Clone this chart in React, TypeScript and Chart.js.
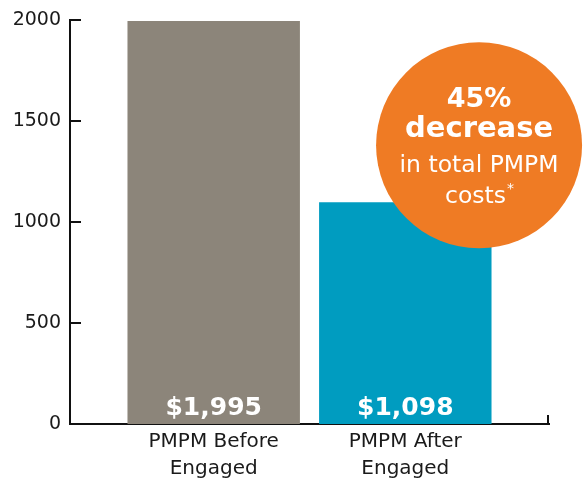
import React, { useEffect, useRef } from "react";
import { Chart, registerables } from "chart.js";

Chart.register(...registerables);

const categories: string[][] = [["PMPM Before", "Engaged"], ["PMPM After", "Engaged"]];
const categoryPositions = [0, 1];
const values = [1995, 1098];
const valueLabels = ["$1,995", "$1,098"];
const barColors = ["#8c857a", "#009cc0"];
const yTickValues = [0, 500, 1000, 1500, 2000];
const calloutBold = ["45%", "decrease"];
const calloutRegular = ["in total PMPM", "costs"];
const calloutFootnote = "*";
const calloutCenter = { x: 1.385, y: 1380 };

const FONT = "'DejaVu Sans', sans-serif";

const decorPlugin = {
  id: "decor",
  afterDatasetsDraw(chart: any) {
    const ctx = chart.ctx as CanvasRenderingContext2D;
    const xs = chart.scales.x;
    const ys = chart.scales.y;
    const area = chart.chartArea;
    ctx.save();
    // inner tick marks on y axis
    ctx.strokeStyle = "#111";
    ctx.lineWidth = 2;
    ys.ticks.forEach((t: any) => {
      const py = Math.round(ys.getPixelForValue(t.value));
      ctx.beginPath();
      ctx.moveTo(area.left, py);
      ctx.lineTo(area.left + 11, py);
      ctx.stroke();
    });
    // end tick on x axis
    ctx.beginPath();
    ctx.moveTo(area.right - 1, area.bottom + 1);
    ctx.lineTo(area.right - 1, area.bottom - 9);
    ctx.stroke();

    // value labels in bars
    const meta = chart.getDatasetMeta(0);
    ctx.fillStyle = "#ffffff";
    ctx.font = `bold 25px ${FONT}`;
    ctx.textAlign = "center";
    ctx.textBaseline = "alphabetic";
    meta.data.forEach((el: any, i: number) => {
      ctx.fillText(valueLabels[i], el.x, area.bottom - 9);
    });

    // callout circle
    const cx = xs.getPixelForValue(calloutCenter.x);
    const cy = ys.getPixelForValue(calloutCenter.y);
    ctx.fillStyle = "#ef7b24";
    ctx.beginPath();
    ctx.arc(cx, cy, 103, 0, Math.PI * 2);
    ctx.fill();

    ctx.fillStyle = "#ffffff";
    ctx.font = `bold 27px ${FONT}`;
    ctx.fillText(calloutBold[0], cx, cy - 38);
    ctx.font = `bold 29px ${FONT}`;
    ctx.fillText(calloutBold[1], cx, cy - 8);
    ctx.font = `23.5px ${FONT}`;
    ctx.fillText(calloutRegular[0], cx, cy + 27);
    const w1 = ctx.measureText(calloutRegular[1]).width;
    ctx.font = `14px ${FONT}`;
    const w2 = ctx.measureText(calloutFootnote).width;
    const startX = cx - (w1 + w2) / 2;
    ctx.textAlign = "left";
    ctx.font = `23.5px ${FONT}`;
    ctx.fillText(calloutRegular[1], startX, cy + 58);
    ctx.font = `14px ${FONT}`;
    ctx.fillText(calloutFootnote, startX + w1 + 1, cy + 48);
    ctx.restore();
  },
};

export default function App() {
  const ref = useRef<HTMLCanvasElement>(null);

  useEffect(() => {
    document.body.style.margin = "0";
    const canvas = ref.current;
    if (!canvas) return;
    const chart = new Chart(canvas, {
      type: "bar",
      data: {
        datasets: [
          {
            data: categoryPositions.map((x, i) => ({ x, y: values[i] })),
            backgroundColor: barColors,
            borderWidth: 0,
            categoryPercentage: 1,
            barPercentage: 0.9,
          } as any,
        ],
      },
      options: {
        animation: false,
        responsive: true,
        maintainAspectRatio: false,
        layout: { padding: { top: 20, right: 38, left: 0, bottom: 0 } },
        plugins: { legend: { display: false }, tooltip: { enabled: false } },
        scales: {
          x: {
            type: "linear",
            offset: false,
            min: -0.75,
            max: 1.75,
            grid: { display: false },
            border: { display: true, color: "#111", width: 2 },
            afterBuildTicks: (scale: any) => {
              scale.ticks = categoryPositions.map((v) => ({ value: v }));
            },
            afterFit: (scale: any) => {
              scale.height = 57;
            },
            ticks: {
              autoSkip: false,
              maxRotation: 0,
              padding: -4,
              color: "#1a1a1a",
              font: { family: FONT, size: 20, lineHeight: 1.35 },
              callback: (v: any) => categories[categoryPositions.indexOf(Number(v))] as any,
            },
          },
          y: {
            min: 0,
            max: 2000,
            grid: { display: false },
            border: { display: true, color: "#111", width: 2 },
            afterBuildTicks: (scale: any) => {
              scale.ticks = yTickValues.map((v) => ({ value: v }));
            },
            afterFit: (scale: any) => {
              scale.width = 70;
            },
            ticks: {
              padding: 1,
              color: "#1a1a1a",
              font: { family: FONT, size: 19 },
              callback: (v: any) => String(v),
            },
          },
        },
      },
      plugins: [decorPlugin],
    });
    return () => chart.destroy();
  }, []);

  return (
    <div style={{ width: 587, height: 481, position: "relative" }}>
      <canvas ref={ref} />
    </div>
  );
}
